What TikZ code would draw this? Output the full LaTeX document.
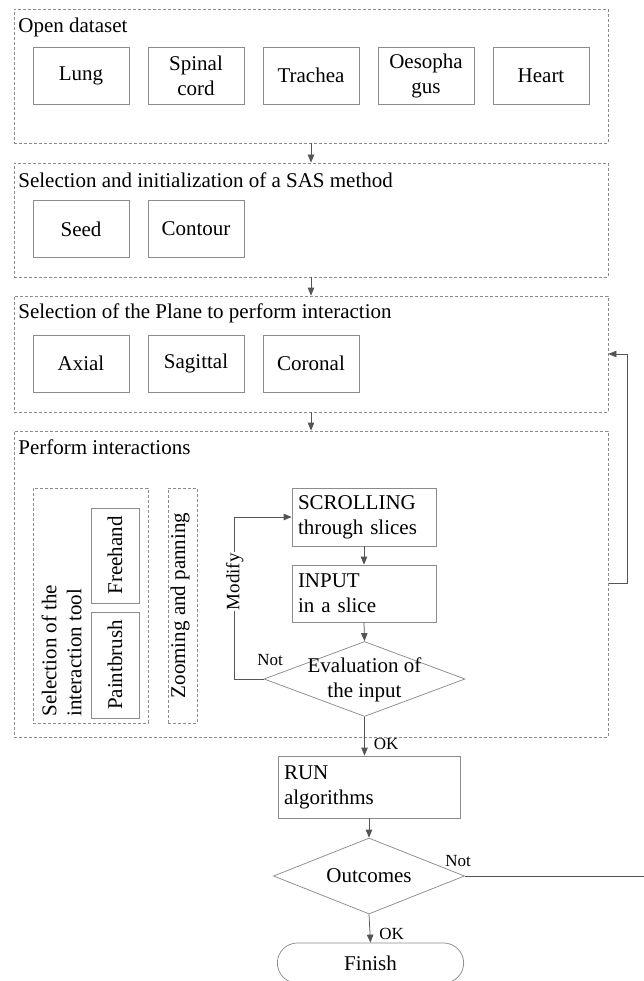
\documentclass[tikz,border=0pt]{standalone}
\usepackage{fontspec}
\setmainfont{Liberation Serif}
\usetikzlibrary{arrows.meta,shapes.geometric,shapes.misc}
\definecolor{boxgray}{HTML}{8C8C8C}
\definecolor{arrgray}{HTML}{555555}
\tikzset{every picture/.style={line width=0.75pt}}
\tikzset{
	organ/.style={draw=boxgray,minimum width=96pt,minimum height=57pt,align=center,inner sep=2pt},
	group/.style={draw=boxgray,dash pattern=on 3pt off 2pt},
	title/.style={anchor=west,inner sep=0pt},
	stepbox/.style={draw=boxgray,align=left,inner xsep=6pt,inner ysep=2pt},
	decide/.style={diamond,draw=boxgray,inner sep=0pt,aspect=2.5},
	lbl/.style={font=\fontsize{17}{19}\selectfont,inner sep=1pt},
	arrow/.style={->,draw=arrgray},
}

\begin{document}
\begin{tikzpicture}[>={Triangle[length=8pt,width=6.5pt]},x=1pt,y=-1pt,font=\fontsize{21}{25}\selectfont]
	\useasboundingbox (0,0) rectangle (644,981);
	%Box 1
	\node[group,minimum width=594pt,minimum height=134pt] (open) at (311,76) {};
	\node[title] (t1) at (18,27) {Open dataset};
	\foreach \txt [count=\i from 0] in {Lung,Spinal\\cord,Trachea,Oesopha\\gus,Heart}
		\node[organ] (org\i) at (81+115*\i,75.5) {\txt};
	%Box 2
	\node[group,minimum width=594pt,minimum height=114pt] (sas) at (311,220) {};
	\node[title] (t2) at (18,180) {Selection and initialization of a SAS method};
	\node[organ] (seed) at (81,229) {Seed};
	\node[organ] (contour) at (196,229) {Contour};
	%Box 3
	\node[group,minimum width=594pt,minimum height=116pt] (plane) at (311,354) {};
	\node[title] (t3) at (18,313) {Selection of the Plane to perform interaction};
	\node[organ] (axial) at (81,363.5) {Axial};
	\node[organ] (sagittal) at (196,363.5) {Sagittal};
	\node[organ] (coronal) at (311,363.5) {Coronal};
	%Box 4
	\node[group,minimum width=594pt,minimum height=306pt] (perform) at (311,584) {};
	\node[title] (t4) at (18,447) {Perform interactions};
	%Tools
	\node[group,minimum width=115pt,minimum height=235pt] (tool) at (90.5,605.5) {};
	\node[rotate=90,align=left,inner sep=0pt,anchor=west] (tooltxt) at (61.5,717) {Selection of the\\interaction tool};
	\node[organ,rotate=90,minimum width=95pt,minimum height=48pt] (free) at (115,555.5) {Freehand};
	\node[organ,rotate=90,minimum width=106pt,minimum height=48pt] (paint) at (115,665) {Paintbrush};
	\node[group,minimum width=29pt,minimum height=235pt] (zoom) at (182.5,605.5) {};
	\node[rotate=90,inner sep=0pt] (zoomtxt) at (180,605.5) {Zooming and panning};
	%Loop
	\node[stepbox,text width=132pt,minimum height=58pt] (scroll) at (364,517) {SCROLLING\\through slices};
	\node[stepbox,text width=132pt,minimum height=57pt] (input) at (364,593.5) {INPUT\\in a slice};
	\node[decide,minimum width=201pt,minimum height=75pt] (eval) at (364.5,679) {};
	\node[align=center,inner sep=0pt] (evaltxt) at (364.5,680) {Evaluation of\\the input};
	%After
	\node[stepbox,text width=170pt,minimum height=62pt] (run) at (369,787) {RUN\\algorithms};
	\node[decide,minimum width=191pt,minimum height=76pt] (outc) at (369,876) {Outcomes};
	\node[draw=boxgray,rounded rectangle,minimum width=193pt,minimum height=40pt] (fin) at (370.5,963) {Finish};
	%Arrows
	\draw[arrow] (open) -- (sas);
	\draw[arrow] (sas) -- (plane);
	\draw[arrow] (plane) -- (perform);
	\draw[arrow] (scroll) -- (input);
	\draw[arrow] (input.south) -- (eval.north);
	\draw[arrow] (eval.west) -- ++(-29,0) |- (scroll.west) node[lbl,font=\fontsize{19}{21}\selectfont,pos=0.3,rotate=90,fill=white] {Modify};
	\node[lbl] (not1) at (270,660) {Not};
	\draw[arrow] (eval.south) -- (eval.south |- run.north) node[lbl,pos=0.7,anchor=west,xshift=8pt] {OK};
	\draw[arrow] (run) -- (outc);
	\draw[arrow] (outc.south) -- (fin.north) node[lbl,pos=0.7,anchor=west,xshift=8pt] {OK};
	%Back
	\coordinate (edge) at (650,876);
	\draw[draw=arrgray] (outc.east) -- (edge);
	\node[lbl] (not2) at (458,861) {Not};
	\coordinate (fb0) at (609,583);
	\coordinate (fb1) at (627,583);
	\draw[arrow] (fb0) -- (fb1) |- (plane.east);
\end{tikzpicture}
\end{document}
